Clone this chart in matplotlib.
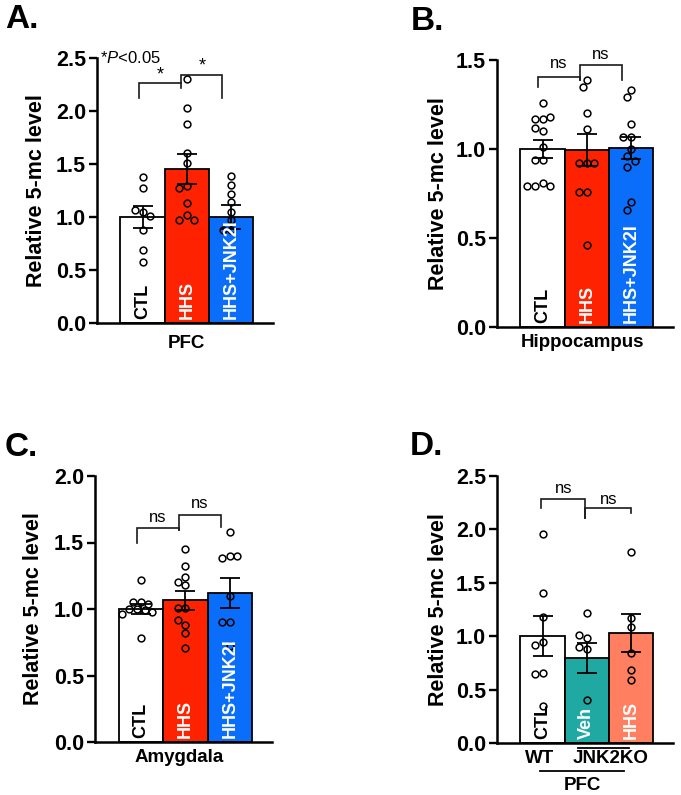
import matplotlib
matplotlib.use('Agg')
import matplotlib.pyplot as plt
import numpy as np

plt.rcParams['font.family'] = ['Liberation Sans', 'DejaVu Sans']
plt.rcParams['mathtext.fontset'] = 'custom'
plt.rcParams['mathtext.it'] = 'Liberation Sans:italic'
plt.rcParams['mathtext.rm'] = 'Liberation Sans'

# ---------------- data ----------------
groups_abc = ['CTL', 'HHS', 'HHS+JNK2I']
groups_d = ['CTL', 'Veh', 'HHS']

a_mean = [1.00, 1.45, 1.00]
a_sem = [0.10, 0.14, 0.11]
a_ctl = [1.38, 1.27, 1.05, 1.07, 1.01, 0.88, 0.69, 0.58]
a_hhs = [2.30, 2.03, 1.88, 1.60, 1.51, 1.29, 1.27, 1.13, 1.02, 0.97, 0.97]
a_jnk = [1.39, 1.30, 1.22, 1.14, 1.05, 0.97, 0.88, 0.88]

b_mean = [1.00, 0.995, 1.005]
b_sem = [0.05, 0.09, 0.063]
b_ctl = [1.26, 1.17, 1.17, 1.18, 1.10, 1.12, 1.01, 0.94, 0.94, 0.81, 0.79, 0.79, 0.79]
b_hhs = [1.39, 1.35, 1.20, 1.11, 0.92, 0.92, 0.92, 0.76, 0.76, 0.46]
b_jnk = [1.33, 1.29, 1.14, 1.07, 1.07, 1.00, 0.96, 0.93, 0.90, 0.70, 0.66]

c_mean = [1.00, 1.065, 1.12]
c_sem = [0.04, 0.07, 0.11]
c_ctl = [1.22, 1.05, 1.05, 1.04, 1.00, 0.99, 1.00, 0.98, 0.96, 0.78]
c_hhs = [1.45, 1.32, 1.24, 1.18, 1.20, 1.01, 1.01, 0.88, 0.92, 0.82, 0.71]
c_jnk = [1.58, 1.40, 1.38, 1.40, 1.10, 0.90, 0.90, 0.72]

d_mean = [1.00, 0.795, 1.03]
d_sem = [0.185, 0.14, 0.175]
d_ctl = [1.96, 1.40, 1.18, 0.95, 0.92, 0.66, 0.65, 0.35]
d_veh = [1.22, 0.98, 1.01, 0.88, 0.90, 0.40]
d_hhs = [1.79, 1.17, 1.09, 0.84, 0.68, 0.59]

# ---------------- styling ----------------
W, H = 681, 795
fig = plt.figure(figsize=(W / 100, H / 100), dpi=100)

RED = '#FF2200'
BLUE = '#0A6EFA'
TEAL = '#20A9A3'
SALMON = '#FF7F60'
colors_abc = ['white', RED, BLUE]
colors_d = ['white', TEAL, SALMON]
label_colors = ['black', 'white', 'white']


def rect(left, top, right, bottom):
    return [left / W, 1 - bottom / H, (right - left) / W, (bottom - top) / H]


def swarm_x(ax, xc, vals, diam):
    t = ax.transData
    ys = [t.transform((xc, v))[1] for v in vals]
    ppu = t.transform((1, 0))[0] - t.transform((0, 0))[0]
    cands = sorted([k * diam / 2 for k in range(-10, 11)], key=lambda o: (abs(o), o))
    placed = []
    xs = []
    for y in ys:
        for o in cands:
            if all((o - po) ** 2 + (y - py) ** 2 >= (diam * 0.98) ** 2 for po, py in placed):
                placed.append((o, y))
                xs.append(xc + o / ppu)
                break
    return xs


def bracket(ax, x0, x1, top, lb, rb, txt, ty, size):
    ax.plot([x0, x0, x1, x1], [lb, top, top, rb], color='#1a1a1a', lw=1.2,
            clip_on=False, solid_joinstyle='miter')
    ax.text((x0 + x1) / 2, ty, txt, ha='center', va='center', fontsize=size,
            clip_on=False)


def panel(rect_px, ymax, means, sems, pts, colors, names, ylab_x):
    ax = fig.add_axes(rect(*rect_px))
    ax.set_xlim(-1.03, 2.95)
    ax.set_ylim(0, ymax)
    x = np.arange(len(means))
    ax.bar(x, means, width=1.0, color=colors, edgecolor='black', linewidth=1.3, zorder=2)
    for xi, vals in zip(x, pts):
        xs = swarm_x(ax, xi, vals, 7.6)
        ax.plot(xs, vals, 'o', ms=4.9, mfc='none', mec='black', mew=1.1, zorder=3,
                clip_on=False)
    ax.errorbar(x, means, yerr=sems, fmt='none', ecolor='black', elinewidth=1.3,
                capsize=7.5, capthick=1.3, zorder=4)
    for xi, nm, c in zip(x, names, label_colors):
        ax.annotate(nm, (xi, 0), xytext=(0, 4), textcoords='offset pixels',
                    rotation=90, ha='center', va='bottom', color=c,
                    fontsize=13, fontweight='bold', zorder=5)
    for s in ['top', 'right']:
        ax.spines[s].set_visible(False)
    for s in ['left', 'bottom']:
        ax.spines[s].set_linewidth(1.8)
    ax.set_xticks([])
    ticks = np.arange(0, ymax + 0.01, 0.5)
    ax.set_yticks(ticks)
    ax.set_yticklabels(['%.1f' % t for t in ticks], fontweight='bold', fontsize=15.5)
    ax.tick_params(axis='y', length=6, width=1.7, pad=2)
    ax.set_ylabel('Relative 5-mc level', fontsize=15.5, fontweight='bold')
    ax.yaxis.set_label_coords(ylab_x, 0.5)
    return ax


# Panel A
axA = panel((97, 58, 273, 323), 2.5, a_mean, a_sem, [a_ctl, a_hhs, a_jnk],
            colors_abc, groups_abc, -0.285)
bracket(axA, -0.07, 0.88, 2.26, 2.12, 2.22, '*', 2.34, 13)
bracket(axA, 0.88, 1.80, 2.34, 2.26, 2.12, '*', 2.42, 13)
axA.text(1, -25 / 265, 'PFC', transform=axA.get_xaxis_transform(), ha='center',
         va='baseline', fontsize=13.5, fontweight='bold')
fig.text(100 / W, 1 - 63 / H, r'*$\mathit{P}$<0.05', fontsize=12)

# Panel B
axB = panel((497, 60, 673, 327), 1.5, b_mean, b_sem, [b_ctl, b_hhs, b_jnk],
            colors_abc, groups_abc, -0.275)
bracket(axB, -0.1, 0.85, 1.406, 1.347, 1.39, 'ns', 1.48, 12)
bracket(axB, 0.85, 1.79, 1.472, 1.39, 1.39, 'ns', 1.53, 12)
axB.text(0.9, -20 / 267, 'Hippocampus', transform=axB.get_xaxis_transform(),
         ha='center', va='baseline', fontsize=13.5, fontweight='bold')

# Panel C
axC = panel((95, 476, 272, 742), 2.0, c_mean, c_sem, [c_ctl, c_hhs, c_jnk],
            colors_abc, groups_abc, -0.29)
bracket(axC, -0.09, 0.85, 1.61, 1.50, 1.594, 'ns', 1.69, 12)
bracket(axC, 0.85, 1.81, 1.707, 1.594, 1.62, 'ns', 1.79, 12)
axC.text(0.87, -20 / 266, 'Amygdala', transform=axC.get_xaxis_transform(),
         ha='center', va='baseline', fontsize=13.5, fontweight='bold')

# Panel D
axD = panel((497, 476, 673, 743), 2.5, d_mean, d_sem, [d_ctl, d_veh, d_hhs],
            colors_d, groups_d, -0.275)
bracket(axD, -0.03, 0.97, 2.28, 2.197, 2.11, 'ns', 2.38, 12)
bracket(axD, 0.97, 2.0, 2.197, 2.11, 2.157, 'ns', 2.28, 12)
tD = axD.get_xaxis_transform()
axD.text(-0.06, -20 / 267, 'WT', transform=tD, ha='center', va='baseline',
         fontsize=13.5, fontweight='bold')
axD.text(1.53, -20 / 267, 'JNK2KO', transform=tD, ha='center', va='baseline',
         fontsize=13.5, fontweight='bold')
axD.plot([0.8, 1.95], [-5 / 267, -5 / 267], transform=tD, color='black', lw=1.3,
         clip_on=False)
axD.plot([-0.06, 1.84], [-27.7 / 267, -27.7 / 267], transform=tD, color='black',
         lw=1.3, clip_on=False)
axD.text(0.91, -47 / 267, 'PFC', transform=tD, ha='center', va='baseline',
         fontsize=13.5, fontweight='bold')

# Panel letters
for lt, px, py in [('A.', 5, 28), ('B.', 411, 30), ('C.', 5, 456), ('D.', 410, 455)]:
    fig.text(px / W, 1 - py / H, lt, fontsize=24, fontweight='bold', va='baseline')

fig.savefig('out.png', dpi=100)
